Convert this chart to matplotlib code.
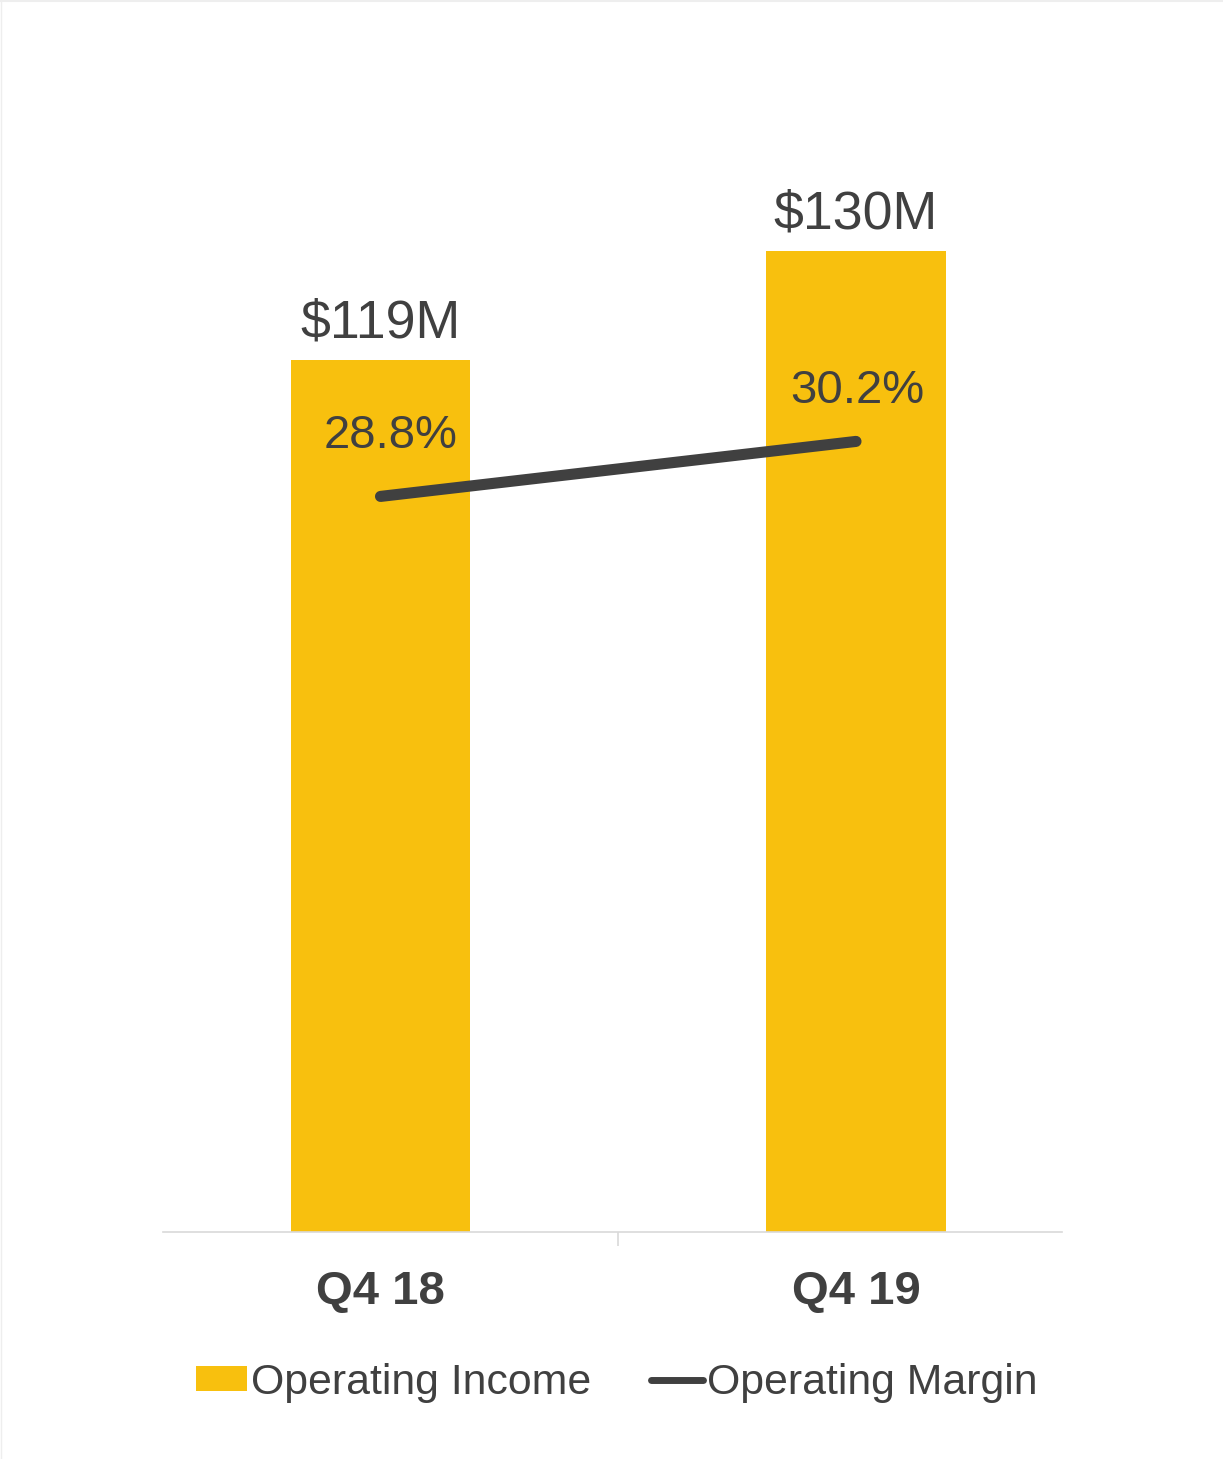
import matplotlib
matplotlib.use("Agg")
import matplotlib.pyplot as plt
from matplotlib.patches import Patch
from matplotlib.lines import Line2D

plt.rcParams['font.family'] = ['Liberation Sans', 'DejaVu Sans']

# ---- data ----
categories = ["Q4 18", "Q4 19"]
operating_income = [119, 130]          # $M
operating_margin = [28.8, 30.2]        # %
income_labels = ["$119M", "$130M"]
margin_labels = ["28.8%", "30.2%"]

# ---- style ----
BAR_COLOR = "#F8C00E"
LINE_COLOR = "#404040"
TEXT_COLOR = "#404040"
AXIS_COLOR = "#D9D9D9"
margin_offsets = [(7.5, 35.0), (1.0, 28.0)]   # points (dx, dy) for margin labels

W, H = 1223, 1459
fig = plt.figure(figsize=(W / 100, H / 100), dpi=100)
fig.patch.set_facecolor("white")

left, right, bottom_px, top_px = 163, 1062, 1231.5, 100
ax = fig.add_axes([left / W, (H - bottom_px) / H, (right - left) / W, (bottom_px - top_px) / H])
ax2 = ax.twinx()

x = list(range(len(categories)))
bars = ax.bar(x, operating_income, width=0.3765, color=BAR_COLOR, zorder=2)
ax.set_xlim(-0.4574, 1.4332)
ax.set_ylim(31.05, 145.24)

for xi, v, lab in zip(x, operating_income, income_labels):
    ax.annotate(lab, (xi, v), xytext=(0, 16.5), textcoords="offset points",
                ha="center", va="baseline", fontsize=38.7, color=TEXT_COLOR)

ax2.plot(x, operating_margin, color=LINE_COLOR, lw=8, solid_capstyle="round", zorder=3)
ax2.set_ylim(10.09, 38.89)
for xi, v, lab, (dx, dy) in zip(x, operating_margin, margin_labels, margin_offsets):
    ax2.annotate(lab, (xi, v), xytext=(dx, dy), textcoords="offset points",
                 ha="center", va="baseline", fontsize=34, color=TEXT_COLOR)

for a in (ax, ax2):
    for s in ("top", "right", "left"):
        a.spines[s].set_visible(False)
    a.set_yticks([])
ax2.spines["bottom"].set_visible(False)
ax.spines["bottom"].set_color(AXIS_COLOR)
ax.spines["bottom"].set_linewidth(1.2)

ax.set_xticks(x)
ax.set_xticklabels(categories, fontsize=34, fontweight="bold", color=TEXT_COLOR)
ax.tick_params(axis="x", which="major", length=0, pad=28)
ax.set_xticks([0.5], minor=True)
ax.tick_params(axis="x", which="minor", length=10, width=1.2, color=AXIS_COLOR, direction="out")

handles = [Patch(facecolor=BAR_COLOR, edgecolor="none"),
           Line2D([0], [0], color=LINE_COLOR, lw=5, solid_capstyle="round")]
fig.legend(handles, ["Operating Income", "Operating Margin"], loc="center",
           bbox_to_anchor=(616.5 / W, (H - 1383) / H), ncol=2, frameon=False,
           fontsize=30.8, handlelength=1.2, handleheight=0.52, handletextpad=0.1,
           columnspacing=1.4, borderpad=0, labelcolor=TEXT_COLOR)

# faint border at top and left edges
fig.add_artist(Line2D([0, 1], [1 - 1 / H, 1 - 1 / H], transform=fig.transFigure, color="#EEEEEE", lw=1.5))
fig.add_artist(Line2D([0.5 / W, 0.5 / W], [0, 1], transform=fig.transFigure, color="#EEEEEE", lw=1.0))

fig.savefig("out.png", dpi=100, facecolor="white")
